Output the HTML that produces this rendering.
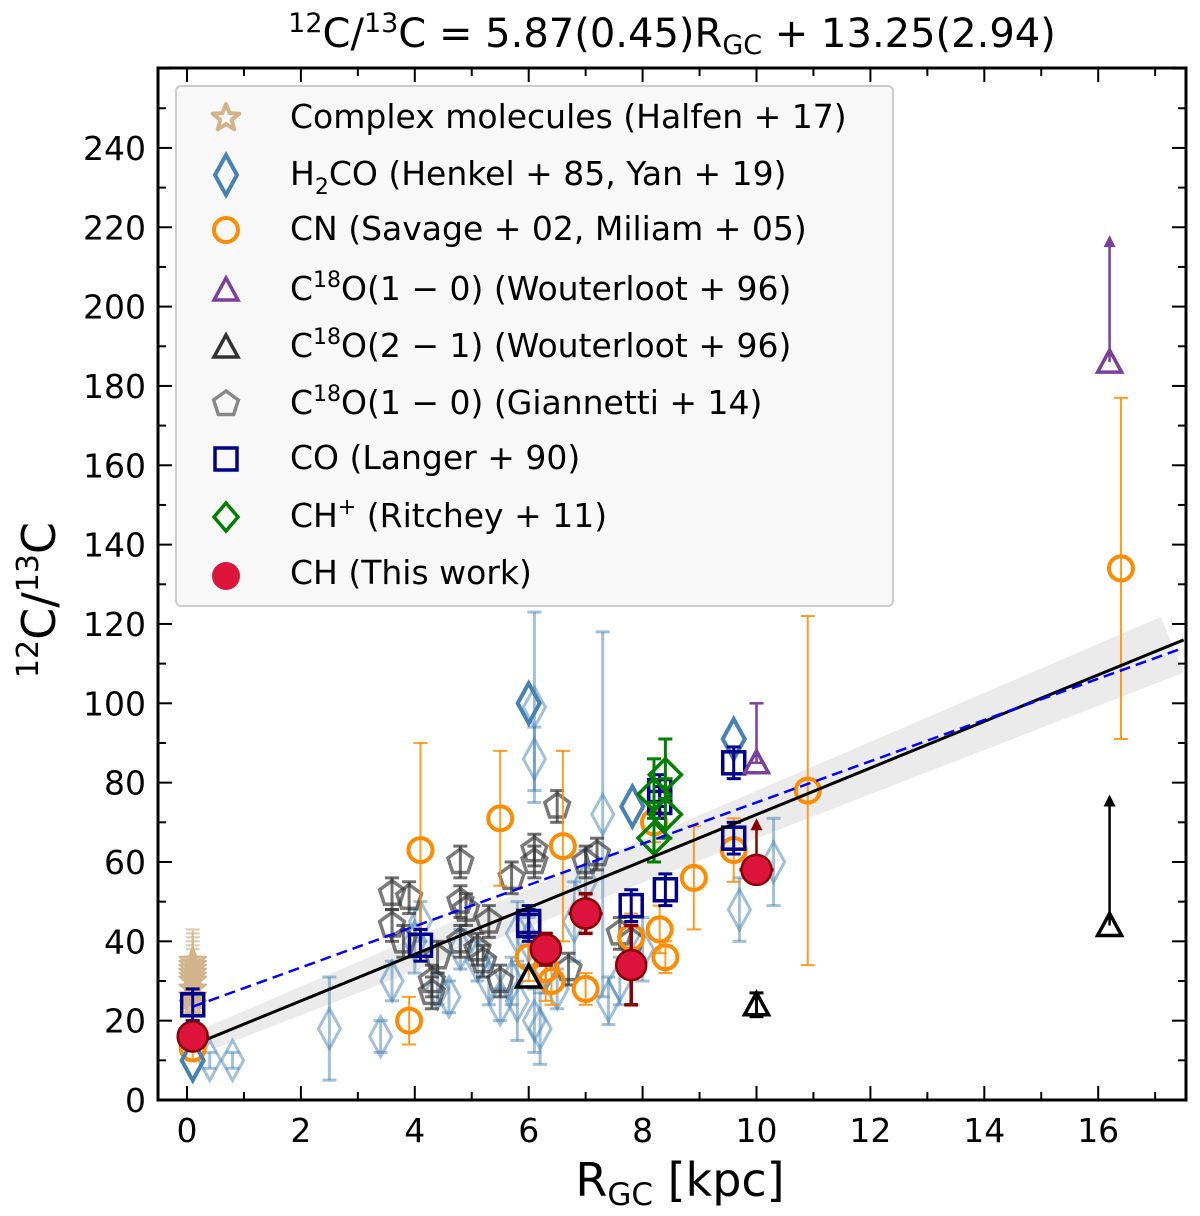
<!DOCTYPE html>
<html><head><meta charset="utf-8"><style>
body{margin:0;background:#fff}
svg{display:block;font-family:"DejaVu Sans","Liberation Sans",sans-serif}
</style></head><body>
<svg id="chart" width="1200" height="1216" viewBox="0 0 1200 1216" xmlns="http://www.w3.org/2000/svg">
<text x="672" y="47" font-size="40" text-anchor="middle"><tspan font-size="27" dy="-15">12</tspan><tspan dy="15">C/</tspan><tspan font-size="27" dy="-15">13</tspan><tspan dy="15">C = 5.87(0.45)R</tspan><tspan font-size="27" dy="7">GC</tspan><tspan dy="-7"> + 13.25(2.94)</tspan></text>
<g id="plot"></g>
<text transform="translate(55,600) rotate(-90)" font-size="46" text-anchor="middle"><tspan font-size="30" dy="-17">12</tspan><tspan dy="17">C/</tspan><tspan font-size="30" dy="-17">13</tspan><tspan dy="17">C</tspan></text>
<text x="680" y="1196" font-size="46" text-anchor="middle">R<tspan font-size="31" dy="9">GC</tspan><tspan dy="-9"> [kpc]</tspan></text>
</svg>
<script>
// ---- data ----
const starX=[0.1,0.1,0.1,0.1,0.1,0.1,0.1,0.1,0.1];
const starY=[24,26,28,30,31,32,33,34,35];
const h2coDarkX=[0.1,6.0,7.82,9.6];
const h2coDarkY=[10,100,74,91];
const h2coLightX=[0.4,0.8,2.5,3.4,3.6,4.0,4.1,4.4,4.6,4.8,5.1,5.3,5.5,5.7,5.8,6.0,6.1,6.1,6.1,6.2,6.3,6.5,6.8,7.0,7.3,7.4,7.6,8.0,9.7,10.3,5.8];
const h2coLightY=[10,10,18,16,30,40,45,28,26,38,35,30,24,30,42,40,99,86,20,18,33,28,45,55,72,25,30,38,48,60,25];
const h2coLightErr=[2,2,13,4,5,8,5,4,4,5,5,6,4,6,8,6,24,8,8,9,6,5,10,8,46,6,6,8,8,11,10];
const cnX=[0.1,3.9,4.1,5.5,6.6,6.0,6.3,6.4,7.0,7.8,8.3,8.4,8.9,9.6,10.9,16.4,8.2];
const cnY=[13,20,63,71,64,36,33,30,28,41,43,36,56,63,78,134,70];
const cnErr=[3,6,27,17,24,6,8,6,4,6,6,4,13,8,44,43,5];
const c18o10X=[10.0,16.2];
const c18o10Y=[85,186];
const c18o21X=[6.0,10.0,16.2];
const c18o21Y=[31,24,44];
const pentX=[3.6,3.9,3.6,3.8,4.3,4.3,4.8,4.8,4.4,4.8,5.2,5.1,5.5,5.7,6.1,6.1,6.5,7.0,7.2,7.6,7.8,6.7,5.3,4.9];
const pentY=[52,51,44,40,30,27,60,50,36,40,35,38,30,56,60,63,74,60,62,42,40,33,45,48];
const coX=[0.1,4.1,6.0,6.0,7.8,8.4,8.3,8.3,9.6,9.6];
const coY=[24,39,44,45,49,53,78,75,85,66];
const chpX=[8.4,8.2,8.4,8.2];
const chpY=[82,77,72,66];
const chX=[0.1,6.3,7.0,7.8,10.0];
const chY=[16,38,47,34,58];
const chErr=[2,4,5,10,4];
const xTicks=[0,2,4,6,8,10,12,14,16];
const yTicks=[0,20,40,60,80,100,120,140,160,180,200,220,240];
const fitSlope=5.87, fitIntercept=13.25;
const dashSlope=5.2, dashIntercept=23;

// ---- axes ----
const L=158,R=1186,T=68,B=1100;
const X=v=>187+56.95*v;
const Y=v=>1100-3.967*v;
const NS="http://www.w3.org/2000/svg";
const g=document.getElementById('plot');
function mk(tag,attrs,parent){const e=document.createElementNS(NS,tag);for(const k in attrs)e.setAttribute(k,attrs[k]);(parent||g).appendChild(e);return e;}

const band=[];for(let x=0.1;x<=17.5;x+=0.5)band.push(X(x)+','+Y(fitSlope*x+fitIntercept+3+0.3*x));
for(let x=17.5;x>=0.1;x-=0.5)band.push(X(x)+','+Y(fitSlope*x+fitIntercept-3-0.3*x));
const bd=mk('polygon',{points:band.join(' '),fill:'#ddd','fill-opacity':0.6});



function err(x,y,lo,hi,color,op,w){
 mk('line',{x1:X(x),x2:X(x),y1:Y(lo),y2:Y(hi),stroke:color,'stroke-opacity':op,'stroke-width':w||2.5});
 mk('line',{x1:X(x)-7,x2:X(x)+7,y1:Y(lo),y2:Y(lo),stroke:color,'stroke-opacity':op,'stroke-width':w||2.5});
 mk('line',{x1:X(x)-7,x2:X(x)+7,y1:Y(hi),y2:Y(hi),stroke:color,'stroke-opacity':op,'stroke-width':w||2.5});
}
function diamond(cx,cy,c,op,sw,name){const e=mk('polygon',{points:`${cx},${cy-20} ${cx+11},${cy} ${cx},${cy+20} ${cx-11},${cy}`,fill:'none',stroke:c,'stroke-opacity':op,'stroke-width':sw});return e;}
function tri(cx,cy,c,name,sw){const e=mk('polygon',{points:`${cx},${cy-12} ${cx+12},${cy+10} ${cx-12},${cy+10}`,fill:'none',stroke:c,'stroke-width':sw||3.5});return e;}
function pent(cx,cy,c,op,name){const p=[];for(let i=0;i<5;i++){const a=-Math.PI/2+i*2*Math.PI/5;p.push((cx+13*Math.cos(a))+','+(cy+13*Math.sin(a)));}const e=mk('polygon',{points:p.join(' '),fill:'none',stroke:c,'stroke-opacity':op,'stroke-width':3.5});return e;}
function star(cx,cy,c,op,name,hollow){const p=[];for(let i=0;i<10;i++){const r=i%2?6:14;const a=-Math.PI/2+i*Math.PI/5;p.push((cx+r*Math.cos(a))+','+(cy+r*Math.sin(a)));}const e=mk('polygon',{points:p.join(' '),fill:hollow?'#fff':c,'fill-opacity':hollow?1:op,stroke:c,'stroke-width':hollow?4:2,'stroke-linejoin':'round'});return e;}
function arrow(x,y0,y1,c){mk('line',{x1:X(x),x2:X(x),y1:Y(y0),y2:Y(y1)+6,stroke:c,'stroke-width':2.5});mk('polygon',{points:`${X(x)},${Y(y1)-4} ${X(x)+6},${Y(y1)+8} ${X(x)-6},${Y(y1)+8}`,fill:c});}

for(let i=0;i<starX.length;i++){err(starX[i],starY[i],starY[i]-4,starY[i]+8,'#d2b48c',0.7,2);star(X(starX[i]),Y(starY[i]),'#d2b48c',0.8,'complex-molecule-point');}
for(let i=0;i<h2coLightX.length;i++){err(h2coLightX[i],h2coLightY[i],h2coLightY[i]-h2coLightErr[i],h2coLightY[i]+h2coLightErr[i],'#4682b4',0.5,3);diamond(X(h2coLightX[i]),Y(h2coLightY[i]),'#4682b4',0.5,3,'h2co-yan-point');}
for(let i=0;i<pentX.length;i++){err(pentX[i],pentY[i],pentY[i]-4,pentY[i]+4,'#333',0.7,3);pent(X(pentX[i]),Y(pentY[i]),'#333',0.65,'c18o-giannetti-point');}
for(let i=0;i<cnX.length;i++){err(cnX[i],cnY[i],cnY[i]-cnErr[i],cnY[i]+cnErr[i],'#ff8c00',0.85,2);const e=mk('circle',{cx:X(cnX[i]),cy:Y(cnY[i]),r:12,fill:'none',stroke:'#ff8c00','stroke-width':4});}
for(let i=0;i<h2coDarkX.length;i++){diamond(X(h2coDarkX[i]),Y(h2coDarkY[i]),'#4682b4',1,4,'h2co-henkel-point');}
for(let i=0;i<coX.length;i++){err(coX[i],coY[i],coY[i]-4,coY[i]+4,'#00008b',1,3);const e=mk('rect',{x:X(coX[i])-11,y:Y(coY[i])-11,width:22,height:22,fill:'none',stroke:'#00008b','stroke-width':3.5});}
for(let i=0;i<chpX.length;i++){err(chpX[i],chpY[i],chpY[i]-6,chpY[i]+9,'#008000',1,3);const cx=X(chpX[i]),cy=Y(chpY[i]);const e=mk('polygon',{points:`${cx},${cy-16} ${cx+16},${cy} ${cx},${cy+16} ${cx-16},${cy}`,fill:'none',stroke:'#008000','stroke-width':3.5});}
arrow(c18o10X[1],c18o10Y[1],217,'#7b3f9e');
err(c18o10X[0],c18o10Y[0],c18o10Y[0],100,'#7b3f9e',1,2.5);
for(let i=0;i<c18o10X.length;i++)tri(X(c18o10X[i]),Y(c18o10Y[i]),'#7b3f9e','c18o-10-point');
arrow(c18o21X[2],c18o21Y[2],76,'#000');
err(c18o21X[1],c18o21Y[1],21,27,'#000',1,3);
for(let i=0;i<c18o21X.length;i++)tri(X(c18o21X[i]),Y(c18o21Y[i]),'#000','c18o-21-point');
const fl=mk('line',{x1:X(0.1),y1:Y(fitSlope*0.1+fitIntercept),x2:X(17.5),y2:Y(fitSlope*17.5+fitIntercept),stroke:'#000','stroke-width':3});


const dl=mk('line',{x1:X(0.1),y1:Y(dashSlope*0.1+dashIntercept),x2:X(17.5),y2:Y(dashSlope*17.5+dashIntercept),stroke:'#0000ff','stroke-width':2.5,'stroke-dasharray':'11,6'});


for(let i=0;i<chX.length;i++){
 if(i===4){arrow(chX[i],chY[i],70,'#8b0000');}
 else err(chX[i],chY[i],chY[i]-chErr[i],chY[i]+chErr[i],'#8b0000',1,3.5);
 if(i===2||i===4){mk('line',{x1:X(chX[i]-0.3),x2:X(chX[i]+0.3),y1:Y(chY[i]),y2:Y(chY[i]),stroke:'#8b0000','stroke-width':3.5});}
 const e=mk('circle',{cx:X(chX[i]),cy:Y(chY[i]),r:15,fill:'#dc143c',stroke:'#8b0000','stroke-width':2.5});
 
 
}
const fr=mk('rect',{x:L,y:T,width:R-L,height:B-T,fill:'none',stroke:'#000','stroke-width':3});


for(let v=0;v<=17;v++){const maj=v%2===0,l=maj?14:8;mk('line',{x1:X(v),x2:X(v),y1:B,y2:B-l,stroke:'#000','stroke-width':2});mk('line',{x1:X(v),x2:X(v),y1:T,y2:T+l,stroke:'#000','stroke-width':2});}
for(let v=0;v<=260;v+=10){const maj=v%20===0,l=maj?14:8;mk('line',{x1:L,x2:L+l,y1:Y(v),y2:Y(v),stroke:'#000','stroke-width':2});mk('line',{x1:R,x2:R-l,y1:Y(v),y2:Y(v),stroke:'#000','stroke-width':2});}
xTicks.forEach(v=>{const t=mk('text',{x:X(v),y:1142,'font-size':33,'text-anchor':'middle'});t.textContent=v;});
yTicks.forEach(v=>{const t=mk('text',{x:146,y:Y(v)+12,'font-size':33,'text-anchor':'end'});t.textContent=v;});
const lg=mk('rect',{x:176,y:86,width:717,height:520,rx:5,fill:'#f8f8f8','fill-opacity':0.95,stroke:'#ccc','stroke-width':2});


const labels=['Complex molecules (Halfen + 17)','H<tspan font-size="22" dy="9">2</tspan><tspan dy="-9">CO (Henkel + 85, Yan + 19)</tspan>','CN (Savage + 02, Miliam + 05)','C<tspan font-size="22" dy="-13">18</tspan><tspan dy="13">O(1 − 0) (Wouterloot + 96)</tspan>','C<tspan font-size="22" dy="-13">18</tspan><tspan dy="13">O(2 − 1) (Wouterloot + 96)</tspan>','C<tspan font-size="22" dy="-13">18</tspan><tspan dy="13">O(1 − 0) (Giannetti + 14)</tspan>','CO (Langer + 90)','CH<tspan font-size="22" dy="-13">+</tspan><tspan dy="13">  (Ritchey + 11)</tspan>','CH (This work)'];
const ly=[116,173,228,288,345,402,457,515,572];
star(226,ly[0]+2,'#d2b48c',1,'legend-marker-complex',true);
diamond(226,ly[1]+2,'#4682b4',1,4,'legend-marker-h2co');
let c=mk('circle',{cx:226,cy:ly[2]+2,r:12,fill:'none',stroke:'#ff8c00','stroke-width':4});
tri(226,ly[3]+2,'#7b3f9e','legend-marker-c18o-10');
tri(226,ly[4]+2,'#333','legend-marker-c18o-21');
pent(226,ly[5]+2,'#888',1,'legend-marker-giannetti');
c=mk('rect',{x:215,y:ly[6]-9,width:22,height:22,fill:'none',stroke:'#00008b','stroke-width':3.5});
c=mk('polygon',{points:`226,${ly[7]-12} 238,${ly[7]+2} 226,${ly[7]+16} 214,${ly[7]+2}`,fill:'none',stroke:'#008000','stroke-width':3.5});
c=mk('circle',{cx:226,cy:ly[8]+4,r:14,fill:'#dc143c'});
labels.forEach((s,i)=>{const t=mk('text',{x:290,y:ly[i]+12,'font-size':33});t.innerHTML=s;});
</script>
</body></html>
